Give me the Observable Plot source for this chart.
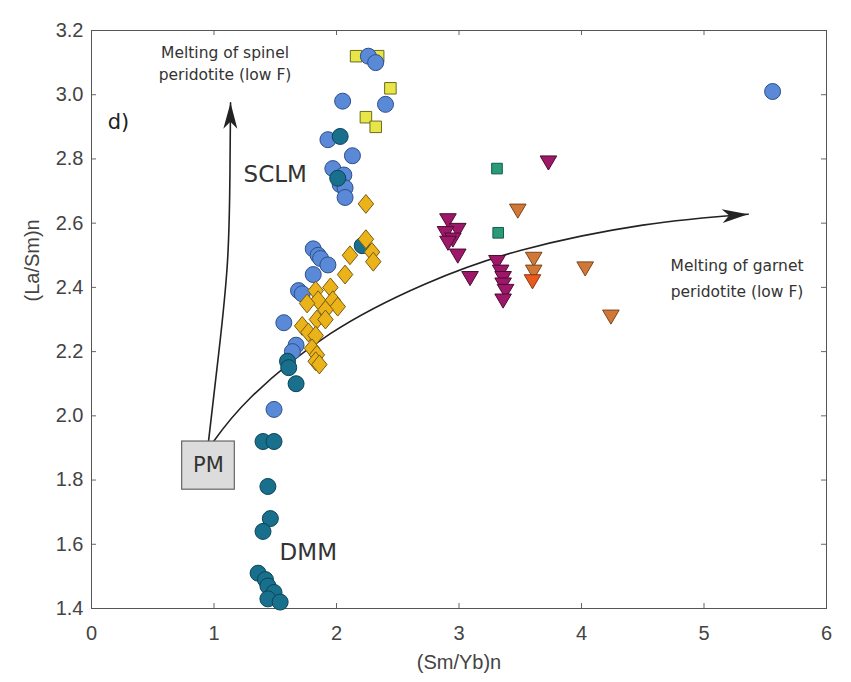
<!DOCTYPE html>
<html>
<head>
<meta charset="utf-8">
<script src="https://cdn.jsdelivr.net/npm/d3@7"></script>
<script src="https://cdn.jsdelivr.net/npm/@observablehq/plot@0.6"></script>
<style>
  html, body { margin: 0; padding: 0; background: #fff; }
  #chart { width: 851px; height: 682px; }
</style>
</head>
<body>
<div id="chart"></div>
<script>
// ---- tick values ----
const xTicks = [0, 1, 2, 3, 4, 5, 6];
const yTicks = [1.4, 1.6, 1.8, 2.0, 2.2, 2.4, 2.6, 2.8, 3.0, 3.2];
const xLabel = "(Sm/Yb)n";
const yLabel = "(La/Sm)n";

// ---- data series: [(Sm/Yb)n, (La/Sm)n] ----
const yellowSquares = [[2.16, 3.12], [2.34, 3.12], [2.44, 3.02], [2.24, 2.93], [2.32, 2.90]];

const blueCircles = [
  [2.26, 3.12], [2.32, 3.10], [2.40, 2.97], [2.05, 2.98], [1.93, 2.86], [2.13, 2.81],
  [1.97, 2.77], [2.06, 2.75], [2.03, 2.72], [2.07, 2.71], [2.07, 2.68],
  [1.81, 2.52], [1.85, 2.50], [1.87, 2.49], [1.93, 2.47], [1.81, 2.44], [1.69, 2.39],
  [1.72, 2.38], [1.57, 2.29], [1.67, 2.22], [1.64, 2.20], [1.49, 2.02], [5.56, 3.01]
];

const tealCircles = [
  [2.03, 2.87], [2.01, 2.74], [2.21, 2.53], [1.60, 2.17], [1.61, 2.15], [1.67, 2.10],
  [1.40, 1.92], [1.49, 1.92], [1.44, 1.78], [1.46, 1.68], [1.40, 1.64],
  [1.36, 1.51], [1.42, 1.49], [1.44, 1.47], [1.49, 1.45], [1.44, 1.43], [1.54, 1.42]
];

const goldDiamonds = [
  [2.24, 2.66], [2.24, 2.55], [2.11, 2.50], [2.29, 2.51], [2.30, 2.48], [2.07, 2.44],
  [1.83, 2.39], [1.95, 2.40], [1.85, 2.36], [1.97, 2.36], [2.01, 2.34], [1.76, 2.35],
  [1.91, 2.33], [1.72, 2.28], [1.84, 2.30], [1.91, 2.30], [1.77, 2.26], [1.83, 2.25],
  [1.80, 2.21], [1.84, 2.19], [1.83, 2.17], [1.86, 2.16]
];

const greenSquares = [[3.31, 2.77], [3.32, 2.57]];

const magentaTriangles = [
  [3.73, 2.79], [2.91, 2.61], [2.99, 2.58], [2.89, 2.57], [2.95, 2.55], [2.91, 2.54],
  [2.99, 2.50], [3.09, 2.43], [3.31, 2.48], [3.34, 2.45], [3.36, 2.43], [3.36, 2.41],
  [3.38, 2.39], [3.36, 2.36]
];

const orangeTriangles = [[3.48, 2.64], [3.61, 2.49], [3.61, 2.45], [4.03, 2.46], [4.24, 2.31]];
const redTriangles = [[3.60, 2.42]];

// ---- annotation curves (melting trends from PM) ----
const spinelCurve = [[0.955, 1.92], [1.04, 2.20], [1.11, 2.48], [1.13, 2.75], [1.135, 2.975]];
const garnetCurve = [[0.99, 1.917], [1.30, 2.057], [1.95, 2.256], [2.72, 2.41], [3.50, 2.515], [4.50, 2.594], [5.36, 2.628]];

// ---- annotation labels ----
const pmBox = [{x1: 0.74, x2: 1.17, y1: 1.77, y2: 1.92}];
const panelLabels = [{x: 0.22, y: 2.915, text: "d)"}];
const fieldLabels = [{x: 1.50, y: 2.75, text: "SCLM"}, {x: 1.77, y: 1.575, text: "DMM"}];
const pmLabels = [{x: 0.955, y: 1.845, text: "PM"}];
const noteLabels = [
  {x: 1.09, y: 3.13, text: "Melting of spinel"},
  {x: 1.09, y: 3.06, text: "peridotite (low F)"},
  {x: 5.27, y: 2.465, text: "Melting of garnet"},
  {x: 5.27, y: 2.385, text: "peridotite (low F)"}
];

// custom symbols
const diamondSym = {
  draw(ctx, size) {
    const h = Math.sqrt(size) * 0.7, w = h * 0.82;
    ctx.moveTo(0, -h); ctx.lineTo(w, 0); ctx.lineTo(0, h); ctx.lineTo(-w, 0); ctx.closePath();
  }
};
const downTri = {
  draw(ctx, size) {
    const s = Math.sqrt(size) * 0.78;
    ctx.moveTo(-s, -s * 0.75); ctx.lineTo(s, -s * 0.75); ctx.lineTo(0, s * 0.95); ctx.closePath();
  }
};

function arrowHead(color) {
  const m = d3.create("svg:marker")
    .attr("viewBox", "-27 -8 28 16")
    .attr("markerWidth", 28).attr("markerHeight", 16)
    .attr("markerUnits", "userSpaceOnUse")
    .attr("orient", "auto")
    .attr("refX", 0).attr("refY", 0)
    .attr("fill", color).attr("stroke", "none");
  m.append("path").attr("d", "M0,0L-26,-7L-19,0L-26,7Z");
  return m.node();
}

const px = d => d[0], py = d => d[1];
const frameW = 851 - 91 - 25, frameH = 682 - 30 - 74;
const sans = "'Liberation Sans', Arial, sans-serif";
const verd = "'DejaVu Sans', Verdana, sans-serif";

const chart = Plot.plot({
  width: 851,
  height: 682,
  marginLeft: 91, marginRight: 25, marginTop: 30, marginBottom: 74,
  x: {domain: [0, 6]},
  y: {domain: [1.4, 3.2]},
  style: {fontFamily: sans, fontSize: "20px", color: "#333", background: "#fff"},
  marks: [
    // axes & ticks (inward, mirrored)
    Plot.axisX(xTicks, {anchor: "bottom", tickSize: 0, tickPadding: 17, fontSize: 20, fill: "#444", tickFormat: d => String(d), label: null}),
    Plot.axisY(yTicks, {anchor: "left", tickSize: 0, tickPadding: 8, fontSize: 20, fill: "#444", tickFormat: d => d.toFixed(1), label: null}),
    Plot.tickX(xTicks, {x: d => d, insetTop: frameH - 5, stroke: "#666"}),
    Plot.tickX(xTicks, {x: d => d, insetBottom: frameH - 5, stroke: "#666"}),
    Plot.tickY(yTicks, {y: d => d, insetRight: frameW - 5, stroke: "#666"}),
    Plot.tickY(yTicks, {y: d => d, insetLeft: frameW - 5, stroke: "#666"}),
    Plot.frame({stroke: "#555", strokeWidth: 1}),
    Plot.text([xLabel], {frameAnchor: "bottom", dy: 60, text: d => d, fontSize: 20, fill: "#444"}),
    Plot.text([yLabel], {frameAnchor: "left", dx: -59, dy: -18, rotate: -90, text: d => d, fontSize: 20, fill: "#444"}),

    // melting curves
    Plot.line(spinelCurve, {x: px, y: py, curve: "natural", stroke: "#222", strokeWidth: 1.6, markerEnd: arrowHead}),
    Plot.line(garnetCurve, {x: px, y: py, curve: "natural", stroke: "#222", strokeWidth: 1.6, markerEnd: arrowHead}),

    // PM box
    Plot.rect(pmBox, {x1: "x1", x2: "x2", y1: "y1", y2: "y2", fill: "#dcdcdc", stroke: "#666", strokeWidth: 1.2}),

    // data
    Plot.dot(yellowSquares, {x: px, y: py, symbol: "square", r: 6.5, fill: "#e8e548", stroke: "#6d6b1e", strokeWidth: 1}),
    Plot.dot(blueCircles, {x: px, y: py, r: 8, fill: "#5a89d8", stroke: "#2d4f8a", strokeWidth: 1}),
    Plot.dot(tealCircles, {x: px, y: py, r: 8, fill: "#18708c", stroke: "#0b4458", strokeWidth: 1}),
    Plot.dot(goldDiamonds, {x: px, y: py, symbol: diamondSym, r: 7.6, fill: "#ebb31a", stroke: "#7a5a10", strokeWidth: 1}),
    Plot.dot(greenSquares, {x: px, y: py, symbol: "square", r: 6, fill: "#2a9a7a", stroke: "#165c48", strokeWidth: 1}),
    Plot.dot(magentaTriangles, {x: px, y: py, symbol: downTri, r: 6, fill: "#9e1869", stroke: "#4d0a33", strokeWidth: 1}),
    Plot.dot(orangeTriangles, {x: px, y: py, symbol: downTri, r: 6, fill: "#d0783a", stroke: "#7a4518", strokeWidth: 1}),
    Plot.dot(redTriangles, {x: px, y: py, symbol: downTri, r: 6, fill: "#ea5a1e", stroke: "#8a3510", strokeWidth: 1}),

    // labels
    Plot.text(panelLabels, {x: "x", y: "y", text: "text", fontSize: 21, fill: "#222", fontFamily: verd}),
    Plot.text(fieldLabels, {x: "x", y: "y", text: "text", fontSize: 23, fill: "#333", fontFamily: verd}),
    Plot.text(pmLabels, {x: "x", y: "y", text: "text", fontSize: 21, fill: "#333", fontFamily: verd}),
    Plot.text(noteLabels, {x: "x", y: "y", text: "text", fontSize: 15.5, fill: "#333", fontFamily: verd})
  ]
});

document.getElementById("chart").appendChild(chart);
</script>
</body>
</html>
